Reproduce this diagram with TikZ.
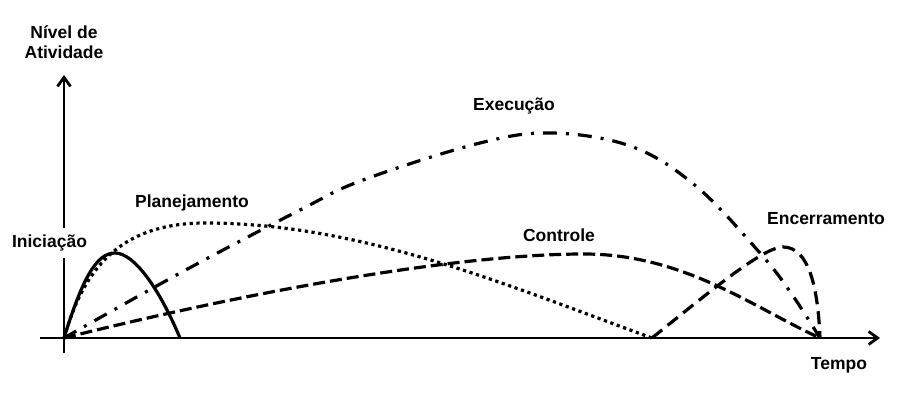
\documentclass[tikz,border=0pt]{standalone}
\usepackage{fontspec}
\setmainfont{Liberation Sans}
\usetikzlibrary{arrows.meta}

\begin{document}
\begin{tikzpicture}[
      x=1pt,y=1pt,
      every node/.style={font=\bfseries\fontsize{17.5}{20}\selectfont},
      axis/.style={line width=2.8pt,-{Straight Barb[length=9pt,width=13pt,line width=2.8pt]}},
      phase/.style={line width=3.2pt},
      iniciacao/.style={phase},
      planejamento/.style={phase,dash pattern=on 3.2pt off 3.6pt},
      execucao/.style={phase,dash pattern=on 14pt off 9pt on 3pt off 9pt},
      controle/.style={phase,dash pattern=on 12pt off 5pt},
      encerramento/.style={phase,dash pattern=on 13pt off 7pt}
    ]

      % Keep the page the size of the picture
      \useasboundingbox (-64,-64) rectangle (844,338);

      % Axes
      \coordinate (origem) at (0,0);
      \coordinate (ybase) at (0,-15);
      \coordinate (ytopo) at (0,263);
      \coordinate (xbase) at (-24,0);
      \coordinate (xfim) at (816,0);
      \draw[axis] (ybase) -- (ytopo);
      \draw[axis] (xbase) -- (xfim);

      % The five phases
      \draw[iniciacao] (origem) .. controls (18,58) and (32,85) .. (51,85)
        .. controls (70,85) and (95,50) .. (116,0);
      \draw[planejamento] (origem) .. controls (18,62) and (50,115) .. (141,115)
        .. controls (300,115) and (450,50) .. (588,0);
      \draw[execucao] plot[smooth,tension=0.6] coordinates {(0,0) (118,66) (236,128)
        (299,158) (416,195) (489,205) (569,191) (633,151) (696,85) (727,45) (756,0)};
      \draw[controle] (origem) .. controls (200,50) and (400,84) .. (520,84)
        .. controls (620,84) and (690,30) .. (756,0);
      % This one starts where the planning ends
      \draw[encerramento] (588,0) .. controls (650,50) and (700,91) .. (719,91)
        .. controls (745,91) and (754,50) .. (756,0);

      % Labels
      \node (nivel) [align=center] at (0,296) {Nível de\\Atividade};
      \node (tempo) at (775,-27) {Tempo};
      \node (ini) [fill=white,inner xsep=2pt,inner ysep=7pt] at (-14.5,95) {Iniciação};
      \node (plan) at (128,135) {Planejamento};
      \node (exec) at (450,232) {Execução};
      \node (ctrl) at (495,103) {Controle};
      \node (enc) at (762,119) {Encerramento};
    \end{tikzpicture}
\end{document}
